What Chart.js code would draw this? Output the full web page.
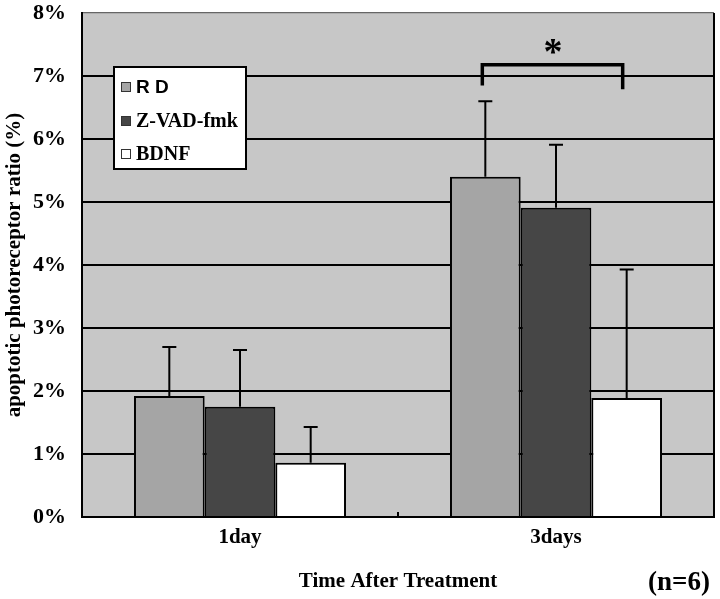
<!DOCTYPE html>
<html>
<head>
<meta charset="utf-8">
<script src="https://cdn.jsdelivr.net/npm/chart.js@4.4.1/dist/chart.umd.min.js"></script>
<style>
  html, body { margin: 0; padding: 0; background: #fff; }
  #wrap { width: 720px; height: 599px; position: relative; }
</style>
</head>
<body>
<div id="wrap"><canvas id="chart"></canvas></div>
<script>
(function () {
    'use strict';

    // data (percent)
    const categories = ["1day", "3days"];
    const seriesNames = ["R D", "Z-VAD-fmk", "BDNF"];
    const rdValues = [1.92, 5.40];
    const zvadValues = [1.75, 4.91];
    const bdnfValues = [0.86, 1.89];
    const rdErrTop = [2.70, 6.60];
    const zvadErrTop = [2.65, 5.91];
    const bdnfErrTop = [1.43, 3.93];
    const yTicks = [0, 1, 2, 3, 4, 5, 6, 7, 8];
    // significance bracket at 3days between R D and BDNF: top, left end, right end
    const sigLevels = [7.18, 6.85, 6.79];
    const sigLabel = "*";
    const sampleNote = "(n=6)";

    const serif = "'Liberation Serif', 'Times New Roman', serif";
    const sans = "'Liberation Sans', Arial, sans-serif";
    const fills = ["#a5a5a5", "#464646", "#ffffff"];
    const errTops = [rdErrTop, zvadErrTop, bdnfErrTop];

    const extras = {
        id: "extras",
        beforeDraw(chart) {
            const { ctx, chartArea: a } = chart;
            ctx.save();
            ctx.fillStyle = "#c7c7c7";
            ctx.fillRect(a.left, a.top, a.right - a.left, a.bottom - a.top);
            ctx.restore();
        },
        afterDatasetsDraw(chart) {
            const { ctx, chartArea: a, scales: { x, y } } = chart;
            ctx.save();
            ctx.strokeStyle = "#000";
            ctx.lineWidth = 2;

            // right edge of plot
            ctx.beginPath();
            ctx.moveTo(a.right, a.top);
            ctx.lineTo(a.right, a.bottom);
            ctx.stroke();

            // error bars (upper only)
            chart.data.datasets.forEach((ds, i) => {
                const meta = chart.getDatasetMeta(i);
                meta.data.forEach((bar, j) => {
                    const yTop = y.getPixelForValue(errTops[i][j]);
                    ctx.beginPath();
                    ctx.moveTo(bar.x, bar.y);
                    ctx.lineTo(bar.x, yTop);
                    ctx.moveTo(bar.x - 7, yTop);
                    ctx.lineTo(bar.x + 7, yTop);
                    ctx.stroke();
                });
            });

            // tick between categories
            const mid = (x.getPixelForValue(0) + x.getPixelForValue(1)) / 2;
            ctx.beginPath();
            ctx.moveTo(mid, y.bottom);
            ctx.lineTo(mid, y.bottom - 5);
            ctx.stroke();

            // significance bracket
            const b0 = chart.getDatasetMeta(0).data[1];
            const b2 = chart.getDatasetMeta(2).data[1];
            const yT = y.getPixelForValue(sigLevels[0]);
            ctx.lineWidth = 3.5;
            ctx.beginPath();
            ctx.moveTo(b0.x - 3, y.getPixelForValue(sigLevels[1]));
            ctx.lineTo(b0.x - 3, yT);
            ctx.lineTo(b2.x - 4, yT);
            ctx.lineTo(b2.x - 4, y.getPixelForValue(sigLevels[2]));
            ctx.stroke();
            ctx.fillStyle = "#000";
            ctx.font = "bold 38px " + serif;
            ctx.textAlign = "center";
            ctx.textBaseline = "middle";
            ctx.fillText(sigLabel, (b0.x + b2.x) / 2 - 3, yT - 10);

            // legend box
            ctx.fillStyle = "#fff";
            ctx.fillRect(114, 67, 132, 102);
            ctx.lineWidth = 2;
            ctx.strokeStyle = "#000";
            ctx.strokeRect(114, 67, 132, 102);
            const rows = [87, 121, 154];
            seriesNames.forEach((name, i) => {
                ctx.fillStyle = fills[i];
                ctx.fillRect(121, rows[i] - 5, 9, 9);
                ctx.lineWidth = 1;
                ctx.strokeStyle = "#333";
                ctx.strokeRect(121.5, rows[i] - 4.5, 9, 9);
                ctx.fillStyle = "#000";
                ctx.textAlign = "left";
                ctx.font = i === 0 ? "bold 19px " + sans : "bold 20px " + serif;
                ctx.fillText(name, 136, rows[i] + 1);
            });

            // sample size note
            ctx.font = "bold 27px " + serif;
            ctx.textAlign = "right";
            ctx.fillText(sampleNote, 710, 583);
            ctx.restore();
        }
    };

    const ctx = document.getElementById("chart");
    new Chart(ctx, {
        type: "bar",
        data: {
            labels: categories,
            datasets: [
                { label: seriesNames[0], data: rdValues, backgroundColor: fills[0] },
                { label: seriesNames[1], data: zvadValues, backgroundColor: fills[1] },
                { label: seriesNames[2], data: bdnfValues, backgroundColor: fills[2] }
            ].map(d => Object.assign(d, {
                borderColor: "#000",
                borderWidth: 2,
                borderSkipped: "bottom",
                barPercentage: 1.0,
                categoryPercentage: 0.671
            }))
        },
        options: {
            responsive: true,
            maintainAspectRatio: false,
            animation: false,
            devicePixelRatio: 1,
            layout: { padding: { left: 0, right: 6, top: 13, bottom: 0 } },
            plugins: { legend: { display: false }, tooltip: { enabled: false } },
            scales: {
                x: {
                    afterFit(scale) {
                        scale.height = 82;
                        scale.paddingLeft = 0;
                        scale.paddingRight = 0;
                    },
                    grid: { display: false, drawTicks: false },
                    border: { display: true, color: "#000", width: 2 },
                    ticks: {
                        padding: 8,
                        color: "#000",
                        font: { family: serif, size: 21, weight: "bold" }
                    },
                    title: {
                        display: true,
                        text: "Time After Treatment",
                        color: "#000",
                        padding: { top: 0, bottom: 5 },
                        font: { family: serif, size: 21, weight: "bold" }
                    }
                },
                y: {
                    min: 0,
                    max: 8,
                    afterFit(scale) {
                        scale.width = 82;
                        scale.paddingTop = 0;
                        scale.paddingBottom = 0;
                    },
                    afterBuildTicks(scale) { scale.ticks = yTicks.map(v => ({ value: v })); },
                    grid: {
                        color: c => (c.tick && c.tick.value === 8 ? "#666" : "#000"),
                        lineWidth: c => (c.tick && c.tick.value === 8 ? 1.2 : 2),
                        drawTicks: false
                    },
                    border: { display: true, color: "#000", width: 2 },
                    ticks: {
                        padding: 16,
                        color: "#000",
                        callback: v => v + "%",
                        font: { family: serif, size: 22, weight: "bold" }
                    },
                    title: {
                        display: true,
                        text: "apoptotic photoreceptor ratio (%)",
                        color: "#000",
                        padding: { top: 2, bottom: 0 },
                        font: { family: serif, size: 21, weight: "bold" }
                    }
                }
            }
        },
        plugins: [extras]
    });
})();
</script>
</body>
</html>
